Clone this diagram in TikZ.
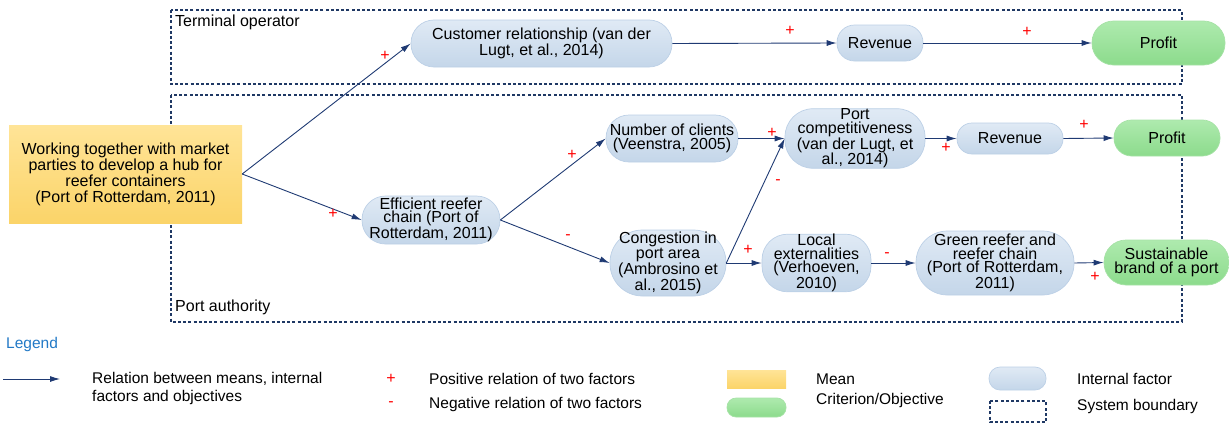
\documentclass[tikz,border=0pt]{standalone}
\usepackage{fontspec}
\setmainfont{Liberation Sans}
\usetikzlibrary{arrows.meta}
\definecolor{arrowc}{HTML}{1F3A73}
\definecolor{boundc}{HTML}{1F3864}
\definecolor{factop}{HTML}{E0EAF5}
\definecolor{facbot}{HTML}{C4D6E9}
\definecolor{facborder}{HTML}{BCD0E6}
\definecolor{crittop}{HTML}{AEEAAE}
\definecolor{critbot}{HTML}{8CDB8C}
\definecolor{critborder}{HTML}{A6E2A6}
\definecolor{meantop}{HTML}{FFE497}
\definecolor{meanbot}{HTML}{FBD469}
\definecolor{legblue}{HTML}{2279C6}
\newcommand\nodefnt{\fontsize{16}{13.4}\selectfont}
\newcommand\meanfnt{\fontsize{16}{16}\selectfont}
\newcommand\legfnt{\fontsize{15.5}{18}\selectfont}
\begin{document}
\begin{tikzpicture}[x=1pt,y=-1pt,
  sz/.style n args={3}{minimum width=#1, minimum height=#2, rounded corners=#3},
  fac/.style={draw=facborder, line width=0.7pt, top color=factop, bottom color=facbot, inner sep=0pt, align=center, font=\nodefnt},
  crit/.style={draw=critborder, line width=0.7pt, top color=crittop, bottom color=critbot, inner sep=0pt, align=center, font=\nodefnt},
  meanbox/.style={top color=meantop, bottom color=meanbot, inner sep=0pt, align=center, font=\meanfnt},
  rel/.style={draw=arrowc, line width=0.9pt, -{Latex[length=10pt,width=6pt]}},
  sgn/.style={text=red, inner sep=0pt, font=\fontsize{16}{16}\selectfont},
  bound/.style={draw=boundc, line width=1.8pt, dash pattern=on 3pt off 2.2pt},
  lab/.style={anchor=west, inner sep=0pt, align=left, font=\legfnt}]
\useasboundingbox (0,0) rectangle (1229,423);

% system boundaries
\draw[bound] (171,10) rectangle (1182,84);
\draw[bound] (171,95) rectangle (1182,322);
\node[anchor=west, inner sep=0pt, font=\nodefnt] (to) at (175,22) {Terminal operator};
\node[anchor=west, inner sep=0pt, font=\nodefnt] (pa) at (175,307) {Port authority};

% nodes
\node[meanbox, minimum width=233, minimum height=98] (mean) at (125.5,174) {Working together with market\\parties to develop a hub for\\reefer containers\\(Port of Rotterdam, 2011)};

\node[fac, sz={261}{47}{23}] (cr) at (541.5,43.5) {Customer relationship (van der\\Lugt, et al., 2014)};
\node[fac, sz={86}{36}{17.5}] (rev1) at (880,43) {Revenue};
\node[crit, sz={133}{44}{21.5}] (prof1) at (1158.5,43) {Profit};

\node[fac, sz={132}{47}{23}] (noc) at (672,138.5) {Number of clients\\(Veenstra, 2005)};
\node[fac, sz={140}{57}{28}] (pc) at (855,138.5) {Port\\competitiveness\\(van der Lugt, et\\al., 2014)};
\node[fac, sz={106}{31}{15}] (rev2) at (1010,138.5) {Revenue};
\node[crit, sz={106}{36}{17.5}] (prof2) at (1167,138) {Profit};

\node[fac, sz={138}{48}{23.5}] (eff) at (431,220) {Efficient reefer\\chain (Port of\\Rotterdam, 2011)};
\node[fac, sz={116}{66}{32.5}] (cong) at (668,263) {Congestion in\\port area\\(Ambrosino et\\al., 2015)};
\node[fac, sz={109}{52}{25.5}] (loc) at (816.5,263) {Local\\externalities\\(Verhoeven,\\2010)};
\node[fac, sz={158}{64}{31.5}] (grc) at (995,263) {Green reefer and\\reefer chain\\(Port of Rotterdam,\\2011)};
\node[crit, sz={125}{45}{22}] (sbp) at (1166.5,262.5) {Sustainable\\brand of a port};

% relations
\draw[rel] (mean.east) -- (cr.west);
\draw[rel] (mean.east) -- (eff.west);
\draw[rel] (cr.east) -- (rev1.west);
\draw[rel] (rev1.east) -- (prof1.west);
\draw[rel] (eff.east) -- (noc.west);
\draw[rel] (eff.east) -- (cong.west);
\draw[rel] (noc.east) -- (pc.west);
\draw[rel] (cong.east) -- (pc.west);
\draw[rel] (cong.east) -- (loc.west);
\draw[rel] (pc.east) -- (rev2.west);
\draw[rel] (rev2.east) -- (prof2.west);
\draw[rel] (loc.east) -- (grc.west);
\draw[rel] (grc.east) -- (sbp.west);

% signs
\node[sgn] (s1) at (385,56) {+};
\node[sgn] (s2) at (333,214) {+};
\node[sgn] (s3) at (790,31) {+};
\node[sgn] (s4) at (1027,32) {+};
\node[sgn] (s5) at (572,155) {+};
\node[sgn] (s6) at (568,237) {-};
\node[sgn] (s7) at (772,133) {+};
\node[sgn] (s8) at (778,182) {-};
\node[sgn] (s9) at (748,250) {+};
\node[sgn] (s10) at (946,148) {+};
\node[sgn] (s11) at (1084,125) {+};
\node[sgn] (s12) at (887,255) {-};
\node[sgn] (s13) at (1095,277) {+};

% legend
\node[anchor=west, inner sep=0pt, text=legblue, font=\legfnt] (leg) at (6,344) {Legend};
\coordinate (la1) at (3,379);
\coordinate (la2) at (60,379);
\draw[rel] (la1) -- (la2);
\node[lab] (lt1) at (92,388) {Relation between means, internal\\factors and objectives};
\node[sgn] (lp) at (391,379) {+};
\node[sgn] (lm) at (391,404) {-};
\node[lab] (lt2) at (429,379) {Positive relation of two factors};
\node[lab] (lt3) at (429,404) {Negative relation of two factors};
\node[meanbox, minimum width=59, minimum height=18] (lmean) at (756.5,379) {};
\node[lab] (lt4) at (816,379) {Mean};
\node[crit, sz={59}{19}{9}] (lcrit) at (756.5,407.5) {};
\node[lab] (lt5) at (816,400) {Criterion/Objective};
\node[fac, sz={57}{23}{11}] (lfac) at (1017.5,378.5) {};
\node[lab] (lt6) at (1077,379) {Internal factor};
\draw[bound] (990,401) rectangle (1046,422);
\node[lab] (lt7) at (1077,406) {System boundary};
\end{tikzpicture}
\end{document}
